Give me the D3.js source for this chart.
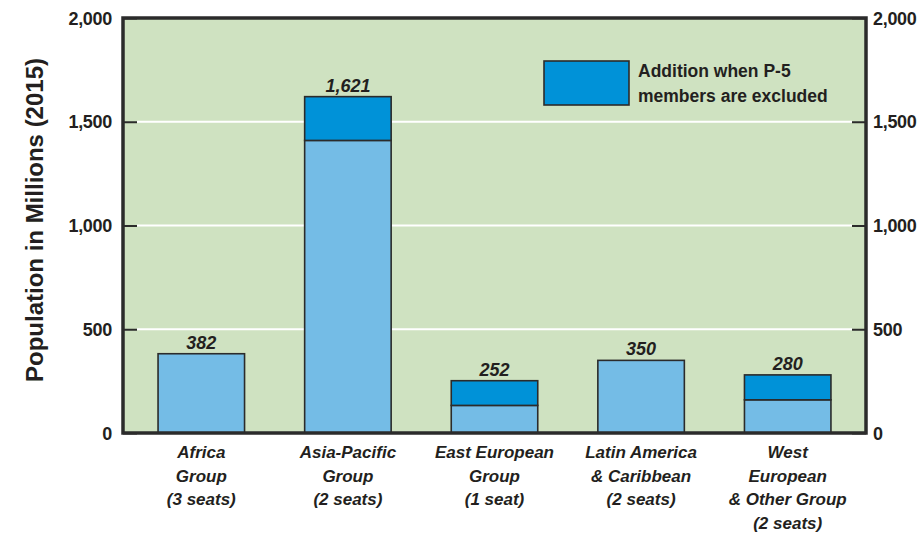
<!DOCTYPE html>
<html>
<head>
<meta charset="utf-8">
<script src="https://cdn.jsdelivr.net/npm/d3@7"></script>
<style>
  html, body { margin: 0; padding: 0; background: #ffffff; }
  svg { display: block; }
  text { font-family: "Liberation Sans", Arial, sans-serif; font-weight: bold; fill: #231f20; }
</style>
</head>
<body>
<svg id="chart" width="923" height="536"></svg>
<script>
const categories = [
  ["Africa", "Group", "(3 seats)"],
  ["Asia-Pacific", "Group", "(2 seats)"],
  ["East European", "Group", "(1 seat)"],
  ["Latin America", "& Caribbean", "(2 seats)"],
  ["West", "European", "& Other Group", "(2 seats)"]
];
const baseValues = [382, 1410, 133, 350, 160];
const additionValues = [0, 211, 119, 0, 120];
const totalLabels = ["382", "1,621", "252", "350", "280"];
const tickValues = [0, 500, 1000, 1500, 2000];
const legendLines = ["Addition when P-5", "members are excluded"];
const yTitle = "Population in Millions (2015)";

const svg = d3.select("#chart");
const plot = { left: 123, right: 866, top: 18, bottom: 433 };
const colBg = "#cfe2c1", colLight = "#74bce6", colDark = "#0092d8", colEdge = "#2b2b2b";

const y = d3.scaleLinear().domain([0, 2000]).range([plot.bottom, plot.top]);
const x = d3.scaleBand().domain(d3.range(categories.length)).range([128, 861]).paddingInner(0.41).paddingOuter(0.205);

const rows = categories.map((c, i) => ({ i, lines: c, base: baseValues[i], add: additionValues[i], label: totalLabels[i] }));

// background
svg.append("rect").attr("x", plot.left).attr("y", plot.top)
  .attr("width", plot.right - plot.left).attr("height", plot.bottom - plot.top)
  .attr("fill", colBg);

// gridlines
svg.append("g").selectAll("line").data(tickValues.filter(d => d > 0 && d < 2000)).join("line")
  .attr("x1", plot.left + 14).attr("x2", plot.right - 14)
  .attr("y1", d => y(d)).attr("y2", d => y(d))
  .attr("stroke", "#ffffff").attr("stroke-width", 2);

// axes
const fmt = d3.format(",");
const axL = svg.append("g").attr("transform", `translate(${plot.left},0)`)
  .call(d3.axisLeft(y).tickValues(tickValues).tickSize(-14).tickPadding(11).tickFormat(fmt));
const axR = svg.append("g").attr("transform", `translate(${plot.right},0)`)
  .call(d3.axisRight(y).tickValues(tickValues).tickSize(-14).tickPadding(7).tickFormat(fmt));
[axL, axR].forEach(a => {
  a.select(".domain").remove();
  a.selectAll(".tick line").attr("stroke", colEdge).attr("stroke-width", 2);
  a.selectAll(".tick text").style("font-size", "18px").style("font-weight", "bold")
    .attr("fill", "#231f20").style("letter-spacing", "-0.3px").attr("dy", "0.34em");
});

// bars
const bars = svg.append("g");
bars.selectAll("rect.base").data(rows).join("rect").attr("class", "base")
  .attr("x", d => x(d.i)).attr("width", x.bandwidth())
  .attr("y", d => y(d.base)).attr("height", d => y(0) - y(d.base))
  .attr("fill", colLight).attr("stroke", colEdge).attr("stroke-width", 1.6);
bars.selectAll("rect.add").data(rows.filter(d => d.add > 0)).join("rect").attr("class", "add")
  .attr("x", d => x(d.i)).attr("width", x.bandwidth())
  .attr("y", d => y(d.base + d.add)).attr("height", d => y(d.base) - y(d.base + d.add))
  .attr("fill", colDark).attr("stroke", colEdge).attr("stroke-width", 1.6);

// value labels
svg.append("g").selectAll("text").data(rows).join("text")
  .attr("x", d => x(d.i) + x.bandwidth() / 2)
  .attr("y", d => y(d.base + d.add) - 5)
  .attr("text-anchor", "middle").style("font-size", "18px").style("font-style", "italic")
  .text(d => d.label);

// frame
svg.append("rect").attr("x", plot.left).attr("y", plot.top)
  .attr("width", plot.right - plot.left).attr("height", plot.bottom - plot.top)
  .attr("fill", "none").attr("stroke", colEdge).attr("stroke-width", 3.5);

// category labels
const cat = svg.append("g").selectAll("text").data(rows).join("text")
  .attr("text-anchor", "middle").style("font-size", "17px").style("font-style", "italic")
  .attr("x", d => x(d.i) + x.bandwidth() / 2).attr("y", 458);
cat.selectAll("tspan").data(d => d.lines.map(t => ({ t, cx: x(d.i) + x.bandwidth() / 2 }))).join("tspan")
  .attr("x", d => d.cx)
  .attr("dy", (d, j) => j === 0 ? 0 : 23.5)
  .text(d => d.t);

// legend
svg.append("rect").attr("x", 544).attr("y", 61).attr("width", 85).attr("height", 44)
  .attr("fill", colDark).attr("stroke", colEdge).attr("stroke-width", 1.6);
svg.append("g").selectAll("text").data(legendLines).join("text")
  .attr("x", 638).attr("y", (d, i) => 77 + i * 25)
  .style("font-size", "17.5px").text(d => d);

// y title
svg.append("text").attr("transform", "translate(43,220) rotate(-90)")
  .attr("text-anchor", "middle").style("font-size", "24px").text(yTitle);
</script>
</body>
</html>
